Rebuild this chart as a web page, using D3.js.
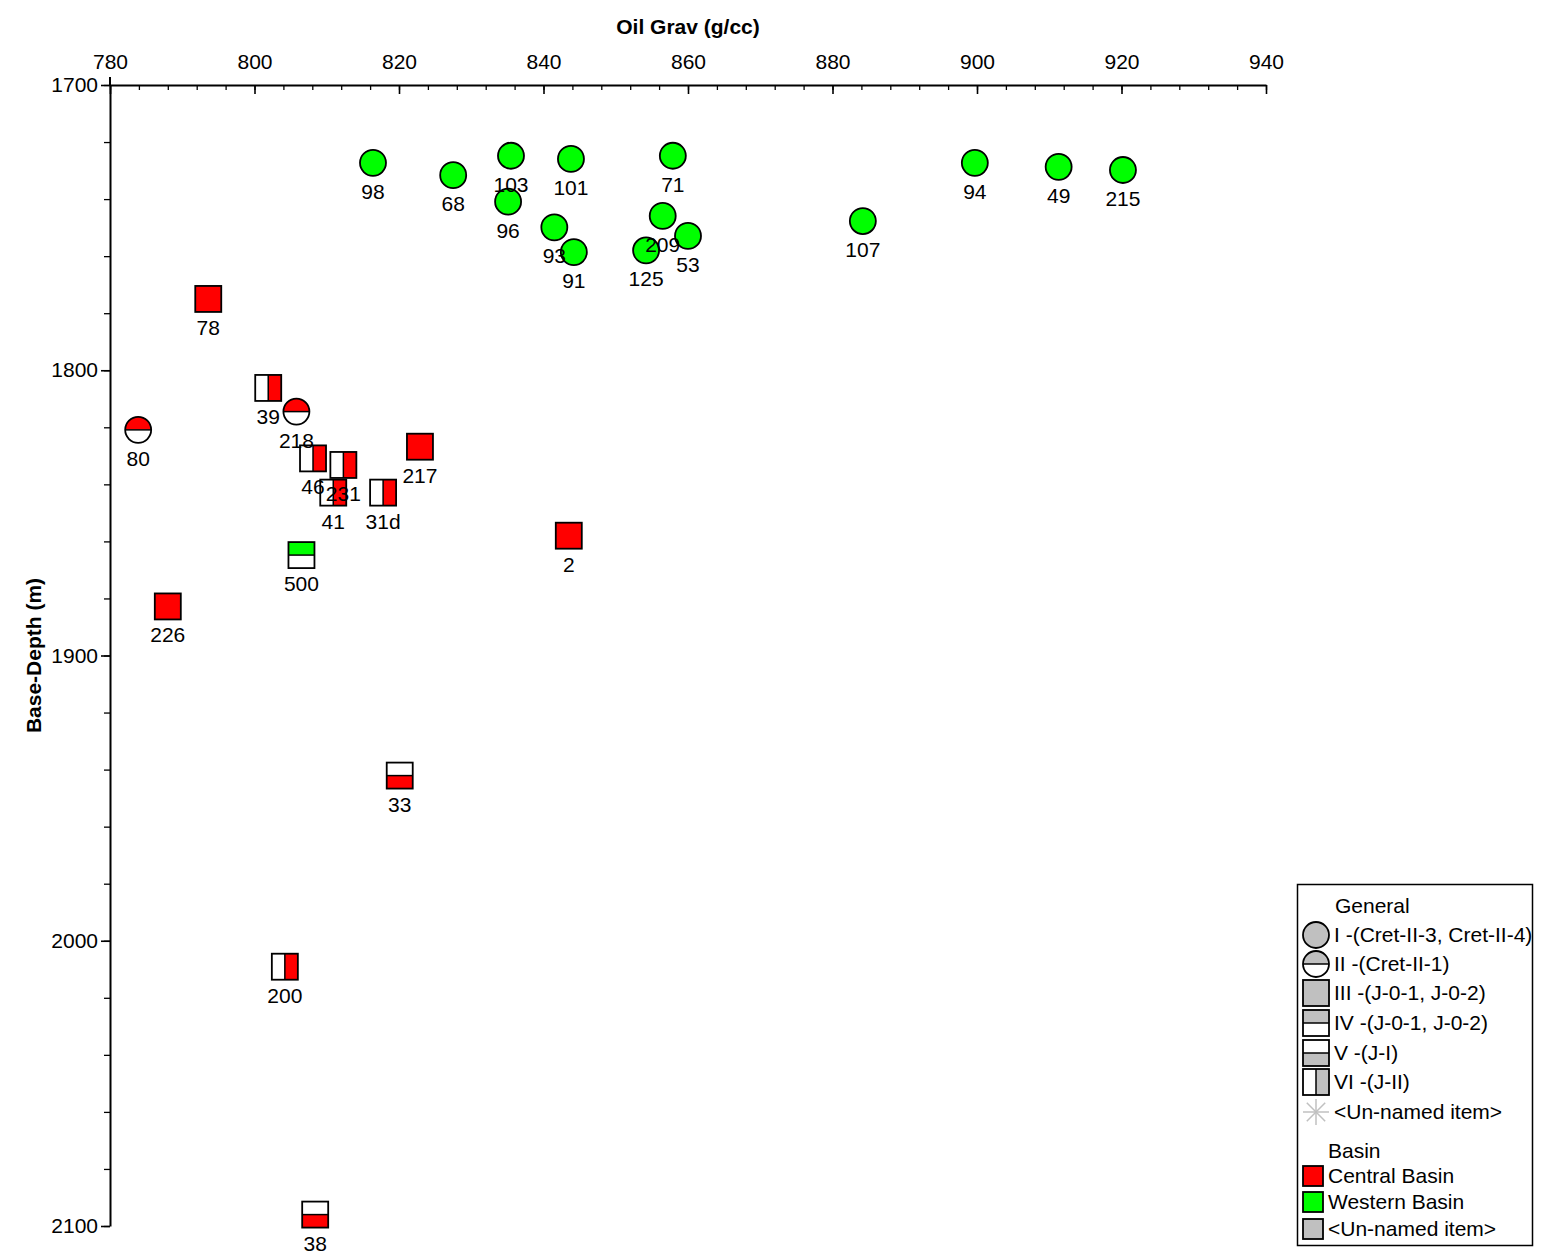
<!DOCTYPE html>
<html>
<head>
<meta charset="utf-8">
<script src="https://cdn.jsdelivr.net/npm/d3@7"></script>
<style>
  body { margin: 0; background: #fff; }
  svg { font-family: "Liberation Sans", Arial, sans-serif; }
</style>
</head>
<body>
<svg id="chart" width="1541" height="1253"></svg>
<script>
// sample data
const wells = ["98", "68", "103", "101", "71", "96", "93", "91", "209", "53", "125", "107", "94", "49", "215",
  "78", "39", "218", "80", "46", "231", "41", "31d", "217", "500", "2", "226", "33", "200", "38"];
const oilGrav = [816.4, 827.5, 835.5, 843.8, 857.9, 835.1, 841.5, 844.2, 856.5, 860.0, 854.2, 884.2, 899.7, 911.3, 920.2,
  793.6, 801.9, 805.8, 783.9, 808.1, 812.3, 810.9, 817.8, 822.9, 806.5, 843.5, 788.0, 820.1, 804.2, 808.4];
const baseDepth = [1727.3, 1731.6, 1724.8, 1725.9, 1724.8, 1740.9, 1749.9, 1758.6, 1745.9, 1752.9, 1758.0, 1747.7, 1727.3, 1728.7, 1729.8,
  1775.0, 1806.2, 1814.5, 1820.9, 1830.9, 1833.2, 1842.9, 1842.9, 1826.8, 1864.8, 1858.0, 1882.8, 1942.1, 2009.1, 2096.0];
const group = ["I", "I", "I", "I", "I", "I", "I", "I", "I", "I", "I", "I", "I", "I", "I",
  "III", "VI", "II", "II", "VI", "VI", "VI", "VI", "III", "IV", "III", "III", "V", "VI", "V"];
const basin = ["W", "W", "W", "W", "W", "W", "W", "W", "W", "W", "W", "W", "W", "W", "W",
  "C", "C", "C", "C", "C", "C", "C", "C", "C", "W", "C", "C", "C", "C", "C"];

const xTicks = [780, 800, 820, 840, 860, 880, 900, 920, 940];
const yTicks = [1700, 1800, 1900, 2000, 2100];

const generalLegend = ["I -(Cret-II-3, Cret-II-4)", "II -(Cret-II-1)", "III -(J-0-1, J-0-2)",
  "IV -(J-0-1, J-0-2)", "V -(J-I)", "VI -(J-II)", "<Un-named item>"];
const generalKeys = ["I", "II", "III", "IV", "V", "VI", "*"];
const basinLegend = ["Central Basin", "Western Basin", "<Un-named item>"];
const basinKeys = ["C", "W", "U"];

const basinColor = { C: "#ff0000", W: "#00ff00", U: "#c0c0c0" };

const FS = 21;

const svg = d3.select("#chart");

const x = d3.scaleLinear().domain([780, 940]).range([110, 1266]);
const y = d3.scaleLinear().domain([1700, 2100]).range([85, 1226]);

// minor ticks
svg.append("g")
  .attr("transform", `translate(0,${y(1700)})`)
  .call(d3.axisTop(x).tickValues(d3.range(780, 941, 4)).tickSize(-5).tickSizeOuter(0).tickFormat(""))
  .call(g => g.select(".domain").remove())
  .call(g => g.selectAll("line").attr("stroke-width", 1.3));

svg.append("g")
  .attr("transform", `translate(${x(780)},0)`)
  .call(d3.axisLeft(y).tickValues(d3.range(1700, 2101, 20)).tickSize(6).tickSizeOuter(0).tickFormat(""))
  .call(g => g.select(".domain").remove())
  .call(g => g.selectAll("line").attr("stroke-width", 1.3));

// major ticks + labels
svg.append("g")
  .attr("transform", `translate(0,${y(1700)})`)
  .call(d3.axisTop(x).tickValues(xTicks).tickSize(-9).tickSizeOuter(0).tickPadding(16).tickFormat(d3.format("d")))
  .call(g => g.selectAll("text").attr("font-size", FS).attr("fill", "#000").attr("font-family", "Liberation Sans, Arial"))
  .call(g => g.selectAll("line").attr("stroke-width", 1.6))
  .call(g => g.select(".domain").attr("stroke-width", 2));

svg.append("g")
  .attr("transform", `translate(${x(780)},0)`)
  .call(d3.axisLeft(y).tickValues(yTicks).tickSize(9).tickSizeOuter(0).tickPadding(3).tickFormat(d3.format("d")))
  .call(g => g.selectAll("text").attr("font-size", FS).attr("fill", "#000").attr("font-family", "Liberation Sans, Arial"))
  .call(g => g.selectAll("line").attr("stroke-width", 1.6))
  .call(g => g.select(".domain").attr("stroke-width", 2));

// short overshoot at the top left corner
svg.append("line")
  .attr("x1", x(780)).attr("x2", x(780))
  .attr("y1", y(1700) - 8).attr("y2", y(1700))
  .attr("stroke", "#000").attr("stroke-width", 2);

// axis titles
svg.append("text")
  .attr("x", (x(780) + x(940)) / 2).attr("y", 34)
  .attr("text-anchor", "middle").attr("font-size", FS).attr("font-weight", "bold")
  .text("Oil Grav (g/cc)");

svg.append("text")
  .attr("transform", `translate(41,${(y(1700) + y(2100)) / 2}) rotate(-90)`)
  .attr("text-anchor", "middle").attr("font-size", FS).attr("font-weight", "bold")
  .text("Base-Depth (m)");

// symbol drawing
function drawSymbol(g, type, color, size) {
  const h = size / 2;
  const sw = 1.8;
  if (type === "I") {
    g.append("circle").attr("r", h).attr("fill", color).attr("stroke", "#000").attr("stroke-width", sw);
  } else if (type === "II") {
    g.append("path")
      .attr("d", `M${-h},0 A${h},${h} 0 0 1 ${h},0 Z`)
      .attr("fill", color);
    g.append("path")
      .attr("d", `M${-h},0 A${h},${h} 0 0 0 ${h},0 Z`)
      .attr("fill", "#fff");
    g.append("line").attr("x1", -h).attr("x2", h).attr("stroke", "#000").attr("stroke-width", 1.5);
    g.append("circle").attr("r", h).attr("fill", "none").attr("stroke", "#000").attr("stroke-width", sw);
  } else if (type === "III" || type === "B") {
    g.append("rect").attr("x", -h).attr("y", -h).attr("width", size).attr("height", size)
      .attr("fill", color).attr("stroke", "#000").attr("stroke-width", sw);
  } else if (type === "IV" || type === "V") {
    const topFill = type === "IV" ? color : "#fff";
    const botFill = type === "IV" ? "#fff" : color;
    g.append("rect").attr("x", -h).attr("y", -h).attr("width", size).attr("height", h).attr("fill", topFill);
    g.append("rect").attr("x", -h).attr("y", 0).attr("width", size).attr("height", h).attr("fill", botFill);
    g.append("line").attr("x1", -h).attr("x2", h).attr("stroke", "#000").attr("stroke-width", 1.5);
    g.append("rect").attr("x", -h).attr("y", -h).attr("width", size).attr("height", size)
      .attr("fill", "none").attr("stroke", "#000").attr("stroke-width", sw);
  } else if (type === "VI") {
    g.append("rect").attr("x", -h).attr("y", -h).attr("width", h).attr("height", size).attr("fill", "#fff");
    g.append("rect").attr("x", 0).attr("y", -h).attr("width", h).attr("height", size).attr("fill", color);
    g.append("line").attr("y1", -h).attr("y2", h).attr("stroke", "#000").attr("stroke-width", 1.5);
    g.append("rect").attr("x", -h).attr("y", -h).attr("width", size).attr("height", size)
      .attr("fill", "none").attr("stroke", "#000").attr("stroke-width", sw);
  } else if (type === "*") {
    for (let a = 0; a < 180; a += 45) {
      const r = a * Math.PI / 180;
      g.append("line")
        .attr("x1", -h * Math.cos(r)).attr("y1", -h * Math.sin(r))
        .attr("x2", h * Math.cos(r)).attr("y2", h * Math.sin(r))
        .attr("stroke", "#c0c0c0").attr("stroke-width", 1.5);
    }
  }
}

const pts = wells.map((w, i) => ({ id: w, gx: oilGrav[i], dy: baseDepth[i], t: group[i], b: basin[i] }));

const pointG = svg.append("g");
pts.forEach(p => {
  const g = pointG.append("g").attr("transform", `translate(${x(p.gx)},${y(p.dy)})`);
  drawSymbol(g, p.t, basinColor[p.b], 26);
});

// labels on top
pts.forEach(p => {
  pointG.append("text")
    .attr("x", x(p.gx)).attr("y", y(p.dy) + 36)
    .attr("text-anchor", "middle").attr("font-size", FS).attr("fill", "#000")
    .text(p.id);
});

// legend
const lg = svg.append("g");
lg.append("rect").attr("x", 1297.5).attr("y", 884.5).attr("width", 235).attr("height", 361)
  .attr("fill", "#fff").attr("stroke", "#000").attr("stroke-width", 1.5);

lg.append("text").attr("x", 1335).attr("y", 913).attr("font-size", FS).text("General");
const genRows = [935, 964, 993, 1023, 1053, 1082, 1112];
generalLegend.forEach((label, i) => {
  const g = lg.append("g").attr("transform", `translate(1316,${genRows[i]})`);
  drawSymbol(g, generalKeys[i], "#c0c0c0", 26);
  lg.append("text").attr("x", 1334).attr("y", genRows[i] + 7).attr("font-size", FS).text(label);
});

lg.append("text").attr("x", 1328).attr("y", 1158).attr("font-size", FS).text("Basin");
const basinRows = [1176, 1202, 1229];
basinLegend.forEach((label, i) => {
  const g = lg.append("g").attr("transform", `translate(1313,${basinRows[i]})`);
  drawSymbol(g, "B", basinColor[basinKeys[i]], 20);
  lg.append("text").attr("x", 1328).attr("y", basinRows[i] + 7).attr("font-size", FS).text(label);
});
</script>
</body>
</html>
